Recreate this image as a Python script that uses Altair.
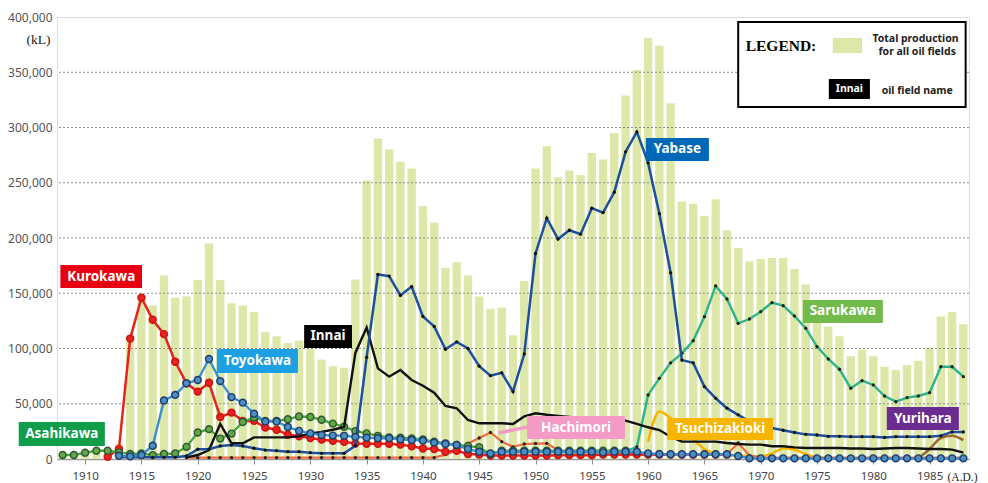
import altair as alt
import pandas as pd

# ---------------- data (kL) ----------------
years = list(range(1908, 1989))
total_production = [
    3500, 3500, 6000, 7500, 8000, 14000, 110000, 148000, 139000, 166000,      # 1908-1917
    146000, 147000, 162000, 195000, 162000, 141000, 139000, 133000, 115000, 111000,  # 1918-1927
    105000, 107000, 100000, 90000, 84000, 82500, 162500, 252000, 290000, 280000,     # 1928-1937
    269000, 263000, 229000, 214000, 173000, 178000, 166000, 147000, 136000, 137000,  # 1938-1947
    112000, 161000, 263000, 283000, 255000, 261000, 257000, 277000, 271000, 295000,  # 1948-1957
    329000, 352000, 381000, 374000, 322000, 233000, 231000, 220000, 235000, 207000,  # 1958-1967
    191000, 179000, 181000, 182000, 182000, 172000, 158000, 128000, 120000, 111000,  # 1968-1977
    93000, 99000, 93000, 83500, 80500, 85000, 89000, 101000, 129000, 133000,         # 1978-1987
    122000,                                                                          # 1988
]

kurokawa_start = 1912
kurokawa = [
    2000, 9000, 109000, 146000, 126000, 113000, 88000, 68500, 61000, 69000,   # 1912-1921
    38000, 42000, 34500, 34500, 28500, 26500, 22000, 20500, 19000, 17500,     # 1922-1931
    16500, 15500, 14000, 13800, 13800, 13800, 13000, 11500, 9500, 9000,       # 1932-1941
    6500, 7500, 4500, 4000, 3200, 3200, 3200, 3200, 3200, 3200,               # 1942-1951
    3500, 3500, 3500, 3500, 4000, 4000, 4000, 4000, 4000, 4000,               # 1952-1961
    4000, 4000, 4000, 4000, 4000, 4000,                                       # 1962-1967
]

toyokawa_start = 1913
toyokawa = [
    3000, 2400, 3600, 12000, 53000, 58000, 68500, 71500, 90500, 70500,        # 1913-1922
    56000, 51000, 41000, 34000, 34000, 29000, 25500, 23200, 21700, 21200,     # 1923-1932
    21000, 20000, 19300, 18800, 18800, 17800, 17200, 16600, 14800, 13600,     # 1933-1942
    12700, 9000, 6600, 5100, 6600, 6600, 6600, 6600, 6600, 6600,              # 1943-1952
    6600, 6600, 6600, 6000, 6600, 6600, 6600, 5100, 4500, 4300,               # 1953-1962
    4300, 4300, 4300, 4300, 4300, 2700, 600, 600, 600, 600,                   # 1963-1972
    600, 600, 600, 600, 600, 600, 600, 600, 600, 600,                         # 1973-1982
    600, 600, 600, 600, 600, 600,                                             # 1983-1988
]

asahikawa_start = 1908
asahikawa = [
    3600, 3600, 5700, 7500, 7500, 6000, 4500, 5000, 3500, 4500,               # 1908-1917
    5000, 11000, 24000, 27000, 18500, 23000, 33500, 37500, 34500, 34500,      # 1918-1927
    36000, 38500, 38000, 35500, 32000, 29200, 25300, 23200, 21000, 19500,     # 1928-1937
    19300, 18700, 17800, 15700, 14200, 12700, 11800, 10600, 4500, 7500,       # 1938-1947
    7500, 7500, 7500, 7500, 7500, 7500, 7500, 7500, 7500, 7500,               # 1948-1957
    7500,                                                                     # 1958
]

yabase_start = 1913
yabase = [
    1500, 1500, 1500, 1500, 1500, 1500, 2700, 8800, 8800, 11800,              # 1913-1922
    12700, 11800, 9700, 8100, 7500, 6600, 6600, 5700, 5100, 5100,             # 1923-1932
    5100, 12000, 92000, 167000, 165500, 148000, 156000, 129000, 120000, 99300,  # 1933-1942
    106000, 100000, 84000, 75400, 78000, 61000, 95000, 186000, 218000, 199000,  # 1943-1952
    207000, 203500, 227000, 223000, 241500, 278000, 296000, 268000, 222000, 168500,  # 1953-1962
    89500, 87000, 65500, 55000, 46000, 40000, 34000, 29000, 28000, 26000,     # 1963-1972
    24000, 22300, 21700, 20500, 20500, 20200, 20200, 20200, 19500, 20200,     # 1973-1982
    20200, 20200, 20200, 21000, 24500, 24500,                                 # 1983-1988
]

innai_start = 1919
innai = [
    1500, 3600, 8100, 31700, 14200, 14200, 19600, 19600, 19600, 19600,        # 1919-1928
    20500, 23200, 24500, 26500, 29000, 96000, 119000, 82000, 74500, 80500,    # 1929-1938
    71500, 66300, 60000, 48000, 45900, 35300, 32300, 32300, 32300, 31700,     # 1939-1948
    38500, 41400, 40000, 39000, 38000, 36500, 36000, 36000, 35500, 34700,     # 1949-1958
    31700, 28700, 26200, 20200, 15700, 15700, 15700, 15700, 14500, 13600,     # 1959-1968
    13000, 13000, 11500, 11500, 10500, 10000, 10000, 10000, 10000, 9500,      # 1969-1978
    9500, 9000, 9500, 10000, 10000, 9500, 9000, 9000, 8500, 5700,             # 1979-1988
]

sarukawa_start = 1946
sarukawa = [
    6000, 6000, 6000, 6000, 6000, 6000, 6000, 6000, 6000, 6000,               # 1946-1955
    6000, 6000, 7000, 11000, 58000, 73000, 87000, 95600, 107000, 128800,      # 1956-1965
    156600, 144800, 122800, 126700, 133300, 141500, 138800, 129400, 118300, 101700,  # 1966-1975
    90500, 81200, 64000, 70900, 67000, 57000, 51900, 55500, 57000, 60000,     # 1976-1985
    83500, 83500, 74500,                                                      # 1986-1988
]

hachimori_start = 1919
hachimori = [
    1200, 1200, 1200, 1200, 1200, 1200, 1200, 1200, 1200, 1200,               # 1919-1928
    1200, 1200, 1200, 1200, 1200, 1200, 1200, 1200, 1200, 1200,               # 1929-1938
    1200, 1200, 1200, 4000, 8000, 14000, 19000, 24000, 15700, 11000,          # 1939-1948
    13600, 14000, 14200, 8000, 5000, 4000, 4000, 4000, 4000, 4000,            # 1949-1958
    4000, 4000, 4000, 4000, 4000, 4000, 4000, 4000, 4000, 14500,              # 1959-1968
    3000, 1200, 1200, 1200, 1200, 1200, 1200, 1200, 1200, 1200,               # 1969-1978
    1200, 1200, 1200, 1200, 1200, 1200, 1200, 1200, 1200, 1200,               # 1979-1988
]

tsuchizakioki_start = 1960
tsuchizakioki = [
    15700, 43000, 37000, 28000, 18000, 9000, 5000, 3500, 3000, 2500,          # 1960-1969
    2500, 5000, 9500, 8500, 4500, 1500, 600,                                  # 1970-1976
]

yurihara_start = 1984
yurihara = [500, 9000, 19000, 21000, 17000]                                   # 1984-1988

grid_values = [50000, 100000, 150000, 200000, 250000, 300000, 350000]
x_tick_values = list(range(1910, 1990, 5))
y_tick_values = list(range(0, 400001, 50000))

# ---------------- tables ----------------
bar_df = pd.DataFrame({"year": years, "total": total_production})

series_list = [
    ("Tsuchizakioki", tsuchizakioki_start, tsuchizakioki),
    ("Yurihara", yurihara_start, yurihara),
    ("Hachimori", hachimori_start, hachimori),
    ("Kurokawa", kurokawa_start, kurokawa),
    ("Sarukawa", sarukawa_start, sarukawa),
    ("Asahikawa", asahikawa_start, asahikawa),
    ("Innai", innai_start, innai),
    ("Yabase", yabase_start, yabase),
    ("Toyokawa", toyokawa_start, toyokawa),
]
rows = []
for name, start, vals in series_list:
    for i, v in enumerate(vals):
        rows.append({"series": name, "year": start + i, "value": v})
line_df = pd.DataFrame(rows)

# styles: line color, width, interpolation, marker (None / big / dot), marker fill, marker stroke
styles = {
    "Tsuchizakioki": ("#f8b500", 2.6, "monotone", None, None, None),
    "Yurihara": ("#9c6b2a", 2.6, "monotone", None, None, None),
    "Hachimori": ("#f26b3a", 2.2, "linear", "dot", "#222222", None),
    "Kurokawa": ("#e8231c", 2.5, "linear", "big", "#e8231c", "#cc1010"),
    "Sarukawa": ("#2db487", 2.4, "linear", "dot", "#222222", None),
    "Asahikawa": ("#4aa63f", 2.4, "linear", "big", "#62a84a", "#2f5a2f"),
    "Innai": ("#111111", 2.4, "linear", None, None, None),
    "Yabase": ("#1d4f9c", 2.5, "linear", "dot", "#111111", None),
    "Toyokawa": ("#3a8fd0", 2.4, "linear", "big", "#4a8ec4", "#1f3d6b"),
}

# label boxes (in data units: years and kL)
label_names = ["Kurokawa", "Toyokawa", "Innai", "Yabase", "Sarukawa",
               "Asahikawa", "Hachimori", "Tsuchizakioki", "Yurihara"]
label_x1 = [1907.8, 1921.7, 1929.45, 1959.8, 1973.75, 1904.1, 1949.25, 1961.7, 1981.2]
label_x2 = [1915.05, 1928.9, 1933.7, 1965.4, 1980.85, 1911.75, 1957.95, 1971.1, 1987.6]
label_y1 = [175500, 99500, 121300, 290500, 143900, 33500, 38900, 37100, 47100]
label_y2 = [154800, 77800, 100500, 269700, 123100, 11800, 18100, 17200, 26200]
label_fill = ["#e60012", "#1ca0e3", "#000000", "#0068b7", "#72bb4a",
              "#0f9d4a", "#f39ac6", "#f8b500", "#6b2c91"]

labels_df = pd.DataFrame({
    "name": label_names, "x1": label_x1, "x2": label_x2,
    "y1": label_y1, "y2": label_y2, "fill": label_fill,
})
labels_df["tx"] = (labels_df["x1"] + labels_df["x2"]) / 2
labels_df["ty"] = (labels_df["y1"] + labels_df["y2"]) / 2

# ---------------- scales / axes ----------------
xs = alt.Scale(domain=[1907.5, 1988.5], nice=False, zero=False)
ys = alt.Scale(domain=[0, 400000], nice=False)

xaxis = alt.Axis(values=x_tick_values, format="d", title="(A.D.)",
                 titleX=890, titleY=18, titleAlign="left", titleBaseline="middle",
                 titleFont="Liberation Serif", titleFontSize=11.5, titleFontWeight="normal",
                 titleColor="#222222", labelFont="Noto Sans", labelFontSize=11.5,
                 labelColor="#444444", labelPadding=6, tickSize=5, tickColor="#8a8a8a",
                 domainColor="#9a9a9a", domainWidth=1.5, grid=False, labelFlush=False)
yaxis = alt.Axis(values=y_tick_values, format=",d", title="(kL)", titleAngle=0,
                 titleX=-7, titleY=22, titleAlign="right", titleBaseline="middle",
                 titleFont="Liberation Serif", titleFontSize=13.5, titleFontWeight="normal",
                 titleColor="#222222", labelFont="Noto Sans", labelFontSize=12,
                 labelColor="#555555", ticks=False, labelPadding=5, domain=False, grid=False)


def X(field):
    return alt.X(field, type="quantitative", scale=xs, axis=xaxis)


def Y(field):
    return alt.Y(field, type="quantitative", scale=ys, axis=yaxis)


layers = []

bars = alt.Chart(bar_df).transform_calculate(
    x0="datum.year - 0.37", x1="datum.year + 0.37", zero="0"
).mark_bar(color="#dde8a8").encode(x=X("x0"), x2="x1:Q", y=Y("total"), y2="zero:Q")
layers.append(bars)

grid = alt.Chart(pd.DataFrame({"g": grid_values})).mark_rule(
    color="#8c8c8c", strokeDash=[2, 2], strokeWidth=1
).encode(y=Y("g"))
layers.append(grid)

for name, _, _ in series_list:
    color, width, interp, marker, mfill, mstroke = styles[name]
    base = alt.Chart(line_df).transform_filter(alt.datum.series == name)
    layers.append(base.mark_line(color=color, strokeWidth=width, interpolate=interp)
                  .encode(x=X("year"), y=Y("value")))
    if marker == "big":
        layers.append(base.mark_circle(size=48, fill=mfill, stroke=mstroke, strokeWidth=1.4,
                                       opacity=1).encode(x=X("year"), y=Y("value")))
    elif marker == "dot":
        layers.append(base.mark_circle(size=11, color=mfill, opacity=1)
                      .encode(x=X("year"), y=Y("value")))

# Hachimori callout connector
conn_df = pd.DataFrame({"xa": [1946.7], "xb": [1949.3], "ya": [23500], "yb": [29000]})
layers.append(alt.Chart(conn_df).mark_rule(color="#f39ac6", strokeWidth=3.5)
              .encode(x=X("xa"), x2="xb:Q", y=Y("ya"), y2="yb:Q"))

# label boxes
layers.append(alt.Chart(labels_df).mark_rect().encode(
    x=X("x1"), x2="x2:Q", y=Y("y1"), y2="y2:Q", color=alt.Color("fill:N", scale=None)))
layers.append(alt.Chart(labels_df).mark_text(
    color="white", font="Noto Sans", fontWeight="bold", fontSize=13.5, baseline="middle"
).encode(x=X("tx"), y=Y("ty"), text="name:N"))

# legend box
legend_box = pd.DataFrame({"x1": [1968.0], "x2": [1988.2], "y1": [395500], "y2": [318600]})
layers.append(alt.Chart(legend_box).mark_rect(fill="white", stroke="black", strokeWidth=2)
              .encode(x=X("x1"), x2="x2:Q", y=Y("y1"), y2="y2:Q"))
swatch = pd.DataFrame({"x1": [1976.4], "x2": [1979.0], "y1": [381000], "y2": [367400]})
layers.append(alt.Chart(swatch).mark_rect(color="#dde8a8")
              .encode(x=X("x1"), x2="x2:Q", y=Y("y1"), y2="y2:Q"))
innai_sw = pd.DataFrame({"x1": [1976.05], "x2": [1979.7], "y1": [343900], "y2": [325800]})
layers.append(alt.Chart(innai_sw).mark_rect(color="black")
              .encode(x=X("x1"), x2="x2:Q", y=Y("y1"), y2="y2:Q"))

legend_texts = pd.DataFrame({
    "t": ["LEGEND:", "Total production", "for all oil fields", "Innai", "oil field name"],
    "x": [1971.8, 1983.75, 1983.9, 1977.88, 1983.9],
    "y": [373800, 380100, 368300, 334900, 333000],
    "c": ["black", "#222222", "#222222", "white", "#222222"],
    "f": ["Liberation Serif", "Noto Sans", "Noto Sans", "Noto Sans", "Noto Sans"],
    "s": [15.5, 10.5, 10.5, 10.5, 10.5],
})
for i in range(len(legend_texts)):
    r = legend_texts.iloc[[i]]
    layers.append(alt.Chart(r).mark_text(
        color=r["c"].iloc[0], font=r["f"].iloc[0], fontSize=float(r["s"].iloc[0]),
        fontWeight="bold", baseline="middle", align="center"
    ).encode(x=X("x"), y=Y("y"), text="t:N"))

chart = alt.layer(*layers).properties(
    width=912, height=442,
    autosize=alt.AutoSizeParams(type="none"),
    padding={"left": 49, "top": 9, "right": 11, "bottom": 24},
).configure_view(stroke="#9a9a9a", strokeWidth=1.5).configure(background="white")

chart.save("out.html", embed_options={"renderer": "svg", "actions": False})
